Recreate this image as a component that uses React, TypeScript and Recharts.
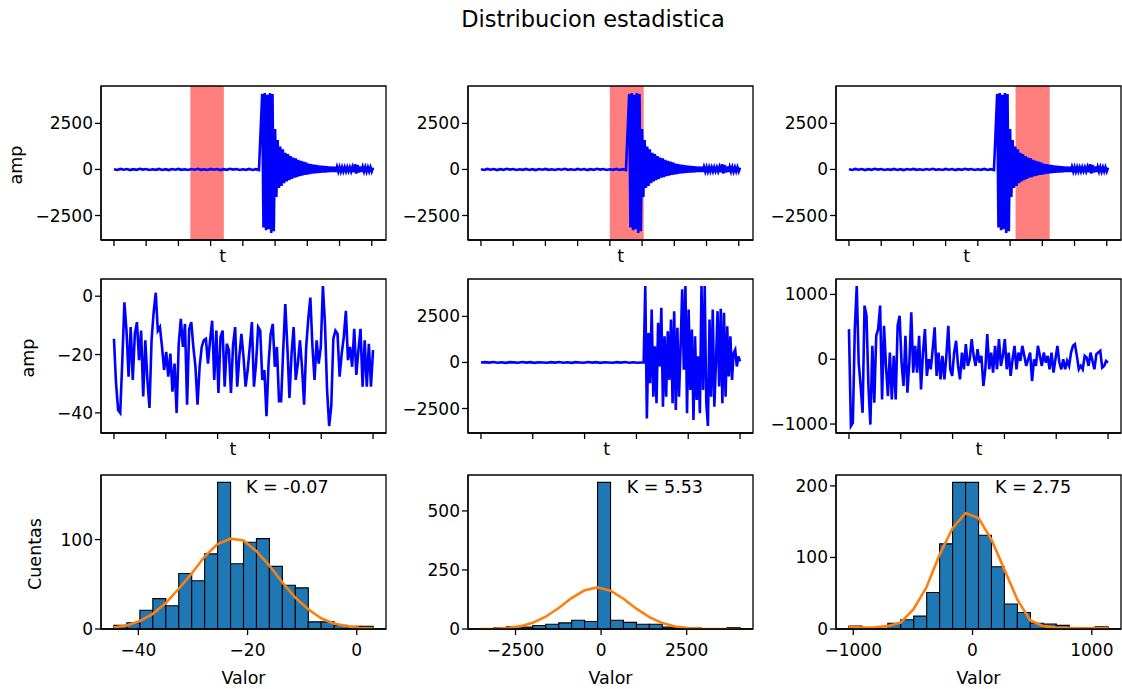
import React from 'react';
import { ComposedChart, Line, Bar, XAxis, YAxis, ReferenceArea } from 'recharts';

// ---------------- DATA ----------------
// Row 1: full record (same record in the three top panels)
const REC_QUIET_DT = 0.1; // pre-event samples, t = 0 .. 4.5
const REC_QUIET = [
  10, -25, 30, -15, 20, -35, 15, -20, 35, -10,
  25, -30, 10, -20, 30, -25, 15, -35, 20, -15,
  30, -20, 10, -30, 25, -15, 35, -20, 10, -25,
  30, -15, 20, -35, 15, -20, 35, -10, 25, -30,
  10, -20, 30, -25, 15, -35,
];
const REC_EVENT_START = 4.6;
const REC_EVENT_DT = 0.04;
const REC_EVENT = [
  4100, -3150, 4150, -3300, 4050, -3250, 4150, -3450, 4100, -3350,
  2200, -1500, 1600, -1000, 1250, -900, 1100, -750, 900, -650,
  830, -580, 720, -520, 650, -450, 600, -420, 520, -360,
  470, -330, 420, -300, 380, -280, 320, -250, 290, -230,
  260, -210, 240, -200, 220, -180, 200, -170, 190, -160,
  170, -150, 160, -140, 150, -130, 145, -130, 140, -120,
  130, -120, 125, -110, 120, -110, 120, -100, 115, -110,
  130, -150, 280, -220, 250, -170, 160, -140, 140, -120,
  130, -120, 120, -110, 120, -110, 100,
];
const RECORD_TICKS = [0, 1, 2, 3, 4, 5, 6, 7, 8];
const WINDOWS: [number, number][] = [[2.37, 3.41], [4.0, 5.05], [5.17, 6.23]];

// Row 2: windowed segments (1000 samples each)
const SEG_LEN = 1000;
const SEG_TICKS = [0, 200, 400, 600, 800, 1000];
const SEG1 = [
  -14.6, -30, -39, -40, -22, -2.1, -11.8, -27.6, -10.6, -28.7, -12.9, -8.9, -21.9, -11.8, -34.4,
  -15.1, -28.7, -38.3, -15.1, -5.5, 1.2, -11.8, -10.6, -17.4, -25.3, -19.1, -27.6, -19.7, -32.7,
  -23.1, -40.0, -16.3, -7.8, -17.4, -9.5, -37.2, -11.2, -8.9, -17.4, -24.2, -37.2, -24.2, -17.4,
  -15.1, -14.6, -23.1, -15.1, -8.4, -28.7, -11.8, -33.2, -14.0, -11.8, -31.0, -16.3, -18.5, -33.2,
  -16.8, -10.6, -31.0, -20.8, -12.9,
  -20.8, -31.0, -25.3, -17.4, -8.9, -31.0, -23.1, -10.6, -11.8, -28.7, -25.3, -41.1, -23.1, -12.9,
  -9.5, -24.2, -17.4, -36.0, -36.0, -18.5, -2.7, -17.4, -34.9, -19.7, -10.6, -28.7, -23.1, -15.1,
  -24.2, -37.2, -17.4, -7.8, -0.5, -17.4, -28.7, -15.1, -23.1, -17.4, 3.5, -9.5, -32.1, -44.5,
  -37.7, -14.6, -11.8, -12.9, -27.6, -19.7, -14.0, -5.0, -21.9, -17.4, -24.2, -11.2, -27.0, -18.5,
  -11.2, -31.0, -15.1, -31.0, -16.3, -31.0, -18.5,
];
const SEG2_ONSET = 628; // sample where the arrival starts
const SEG2_QUIET = [
  0, 15, -10, 20, -15, 10, -20, 15, 5, -15, 20, -10, 15, -20, 10, 0, -15, 15, -10, 20,
  -15, 10, -20, 15, 0, -15, 20, -10, 15, -20, 10, 0, -15, 15, -10, 20, -15, 10, -20, 0,
];
const SEG2_EVENT = [
  0, 4150, -3040, 1604, -1126, 2877, -1856, 874, -2218, 2150, -218, 2968, -2402, 1420, -1856,
  1692, -944, 2331, -2218, 2784, -2582, 1878, -1856, 874, 3969, -399, 4150, -2762, 2877, -1490,
  1785, -3128, 1420, -2036, 328, -2762, 4150, -1490, 4150, -2218, -3450, 2331, -1856, 2877,
  -2402, -33, 2784, -1310, 2915, -2218, 2697, -1856, 1965, -764, 1420, -944, 513, 693, -218,
  328, 55,
];
const SEG3 = [
  465, -1030, -982, 465, 1130, -52, -413, -827, 827, 672, -413, -1008, 207, -672, 362, 465, 827,
  -620, 517, -103, -568, 103, -620, 52, -620, 517, 672, -52, -413, 362, -517, -52, 723, -207, 207,
  -207, 362, -465, 103, 465, -258, 0, -155, 155, 491, -258, 103, -310, 52, -310, 52, 517, -155,
  -258, 103, 284, -103, -310, 103, -155, 232, -103, 0, 310, 52, -103, 155, -52, 52, -413, -155,
  388, -155, 103, -207, 207, -155, 310, -103, 52, 310, -155, 103, -258, 0, 207, -155, 103, -26,
  207, 52, -103, 0, 103, -336, 0, -103, 207, 52, -103, 103, -52, 52, -155, 103, -207, 0, 207,
  -52, -155, 0, -155, -26, -103, 103, 207, 232, 52, -155, -103, -155, 52, 26, -103, 103, -26,
  -155, 78, 103, 129, -129, -103, -26, -52,
];

// Row 3: histograms (20 bins) and fitted curve at the bin edges
const H1_RANGE = [-44.47, 2.98];
const H1_COUNTS = [4, 7, 21, 34, 26, 62, 54, 84, 164, 73, 97, 101, 70, 49, 46, 8, 8, 4, 3, 3];
const H1_FIT = [2, 4, 9, 17, 29, 45, 62, 81, 95, 101, 99, 87, 71, 52, 35, 22, 12, 6, 3, 1, 0.5];
const H2_RANGE = [-3510, 4060];
const H2_COUNTS = [2, 5, 10, 8, 15, 20, 26, 37, 32, 621, 37, 28, 20, 20, 8, 5, 4, 2, 2, 6];
const H2_FIT = [0.3, 1.3, 4.2, 11, 26, 52, 89, 131, 164, 176, 162, 128, 86, 50, 25, 10.5, 3.9, 1.2, 0.3, 0.1, 0];
const H3_RANGE = [-1036, 1136];
const H3_COUNTS = [4, 1, 1, 8, 13, 18, 51, 119, 205, 205, 131, 87, 35, 23, 8, 7, 5, 2, 1, 3];
const H3_FIT = [3, 2, 2.5, 4, 9, 28, 59, 104, 141, 162, 155, 125, 83, 41, 12, 4, 2, 1.5, 1, 1, 1.5];
const H_XTICKS = [[-40, -20, 0], [-2500, 0, 2500], [-1000, 0, 1000]];
const H_YTICKS = [[0, 100], [0, 250, 500], [0, 100, 200]];
const KURTOSIS = ['K = -0.07', 'K = 5.53', 'K = 2.75'];

const TITLE = 'Distribucion estadistica';

// ---------------- STYLE / LAYOUT ----------------
const FONT = "'DejaVu Sans', sans-serif";
const TICK_FS = 17;
const LABEL_FS = 17.5;
const TITLE_FS = 22.5;
const BLUE = '#0000ff';
const HIST_BLUE = '#1f77b4';
const ORANGE = '#ff7f0e';
const COL_LEFT = [101, 468, 836];
const ROW_TOP = [86, 279, 475];
const PW = 285, PH = 154;
const ML = 100, MT = 10, MR = 4, MB = 64;
const AXIS_LINE = { stroke: '#000', strokeWidth: 1.3 };
const TICK_STYLE = { fill: '#000', fontSize: TICK_FS, fontFamily: FONT };

const fmt = (v: number) => (v < 0 ? '\u2212' + Math.abs(v) : String(v));
const noTickText = () => <g />;

function padDomain(values: number[], frac = 0.05): [number, number] {
  const lo = Math.min(...values), hi = Math.max(...values);
  const r = hi - lo;
  return [lo - r * frac, hi + r * frac];
}

// ---------------- DERIVED TABLES ----------------
const recordData = [
  ...REC_QUIET.map((v, i) => ({ x: i * REC_QUIET_DT, v })),
  ...REC_EVENT.map((v, i) => ({ x: REC_EVENT_START + i * REC_EVENT_DT, v })),
];
const evenly = (vals: number[], a: number, b: number) =>
  vals.map((v, i) => ({ x: a + (i * (b - a)) / (vals.length - 1), v }));
const seg1Data = evenly(SEG1, 0, SEG_LEN);
const seg2Data = [
  ...evenly(SEG2_QUIET, 0, SEG2_ONSET - 8),
  ...evenly(SEG2_EVENT, SEG2_ONSET, SEG_LEN),
];
const seg3Data = evenly(SEG3, 0, SEG_LEN);

function histTables(range: number[], counts: number[], fit: number[]) {
  const w = (range[1] - range[0]) / counts.length;
  return {
    bars: counts.map((c, i) => ({ x: range[0] + (i + 0.5) * w, c })),
    fit: fit.map((y, i) => ({ x: range[0] + i * w, y })),
    xDomain: padDomain(range),
    yDomain: [0, Math.max(...counts) * 1.05] as [number, number],
  };
}
const HISTS = [
  histTables(H1_RANGE, H1_COUNTS, H1_FIT),
  histTables(H2_RANGE, H2_COUNTS, H2_FIT),
  histTables(H3_RANGE, H3_COUNTS, H3_FIT),
];

// ---------------- PANEL ----------------
type PanelProps = {
  col: number;
  row: number;
  data: any[];
  xDomain: [number, number];
  yDomain: [number, number];
  xTicks: number[];
  yTicks: number[];
  xTickLabels: boolean;
  xLabel: string;
  xLabelX?: number;
  xLabelBaseline: number;
  yLabel?: string;
  yLabelX?: number;
  note?: string;
  noteFrac?: number;
  children?: React.ReactNode[];
};

function Panel(p: PanelProps) {
  const left = COL_LEFT[p.col] - ML;
  const top = ROW_TOP[p.row] - MT;
  const xLabelFn = (lp: any) => {
    const vb = lp.viewBox;
    const x = p.xLabelX == null ? vb.x + vb.width / 2 : vb.x + p.xLabelX;
    return (
      <text x={x} y={vb.y + p.xLabelBaseline} textAnchor="middle" fontSize={LABEL_FS} fontFamily={FONT} fill="#000">
        {p.xLabel}
      </text>
    );
  };
  const yLabelFn = (lp: any) => {
    const vb = lp.viewBox;
    const x = vb.x + vb.width + (p.yLabelX ?? 0);
    const y = vb.y + vb.height / 2 + 2;
    return (
      <text x={x} y={y} transform={`rotate(-90 ${x} ${y})`} textAnchor="middle" fontSize={LABEL_FS} fontFamily={FONT} fill="#000">
        {p.yLabel}
      </text>
    );
  };
  const noteFn = (lp: any) => {
    const vb = lp.viewBox;
    if (!p.note) return <g />;
    return (
      <text x={vb.x + vb.width * (p.noteFrac ?? 0.5)} y={vb.y + 18} fontSize={LABEL_FS} fontFamily={FONT} fill="#000">
        {p.note}
      </text>
    );
  };
  return (
    <div style={{ position: 'absolute', left, top }}>
      <ComposedChart
        width={ML + PW + MR}
        height={MT + PH + MB}
        data={p.data}
        margin={{ top: MT, right: MR, bottom: 0, left: 0 }}
        barCategoryGap={0}
        barGap={0}
      >
        <XAxis
          dataKey="x"
          type="number"
          domain={p.xDomain}
          allowDataOverflow
          ticks={p.xTicks}
          interval={0}
          height={MB}
          tickSize={6}
          tickMargin={9}
          tick={p.xTickLabels ? TICK_STYLE : noTickText}
          tickFormatter={fmt}
          axisLine={AXIS_LINE}
          tickLine={AXIS_LINE}
          label={xLabelFn}
        />
        <YAxis
          type="number"
          domain={p.yDomain}
          allowDataOverflow
          ticks={p.yTicks}
          interval={0}
          width={ML}
          tickSize={6}
          tickMargin={2}
          tick={TICK_STYLE}
          tickFormatter={fmt}
          axisLine={AXIS_LINE}
          tickLine={AXIS_LINE}
          label={p.yLabel ? yLabelFn : undefined}
        />
        {p.children}
        <ReferenceArea
          x1={p.xDomain[0]}
          x2={p.xDomain[1]}
          y1={p.yDomain[0]}
          y2={p.yDomain[1]}
          fill="none"
          fillOpacity={0}
          stroke="#000"
          strokeWidth={1.3}
          ifOverflow="visible"
          label={noteFn}
        />
      </ComposedChart>
    </div>
  );
}

// ---------------- APP ----------------
const ROW1_X_LABEL = [121.7, 152.7, 130.7];
const ROW2_X_LABEL = [132, 138.7, 143];
const NOTE_FRAC = [0.509, 0.557, 0.558];

export default function App() {
  const recX = padDomain(recordData.map((d) => d.x));
  const recY = padDomain(recordData.map((d) => d.v));
  const segs = [seg1Data, seg2Data, seg3Data];
  const segX = padDomain([0, SEG_LEN]);
  const segTicksY = [[-40, -20, 0], [-2500, 0, 2500], [-1000, 0, 1000]];

  return (
    <div style={{ position: 'absolute', left: 0, top: 0, width: 1122, height: 689, overflow: 'hidden', background: '#fff' }}>
      <svg width={1122} height={40} style={{ position: 'absolute', left: 0, top: 0 }}>
        <text x={593} y={26.5} textAnchor="middle" fontSize={TITLE_FS} fontFamily={FONT} fill="#000">
          {TITLE}
        </text>
      </svg>

      {WINDOWS.map((w, c) => (
        <Panel
          key={'r1' + c}
          col={c}
          row={0}
          data={recordData}
          xDomain={recX}
          yDomain={recY}
          xTicks={RECORD_TICKS}
          yTicks={[-2500, 0, 2500]}
          xTickLabels={false}
          xLabel="t"
          xLabelX={ROW1_X_LABEL[c]}
          xLabelBaseline={21.5}
          yLabel={c === 0 ? 'amp' : undefined}
          yLabelX={-79}
        >
          {[
            <ReferenceArea key="win" x1={w[0]} x2={w[1]} fill="#ff0000" fillOpacity={0.5} stroke="none" />,
            <Line key="rec" dataKey="v" stroke={BLUE} strokeWidth={2.6} dot={false} isAnimationActive={false} />,
          ]}
        </Panel>
      ))}

      {segs.map((d, c) => (
        <Panel
          key={'r2' + c}
          col={c}
          row={1}
          data={d}
          xDomain={segX}
          yDomain={padDomain(d.map((e) => e.v))}
          xTicks={SEG_TICKS}
          yTicks={segTicksY[c]}
          xTickLabels={false}
          xLabel="t"
          xLabelX={ROW2_X_LABEL[c]}
          xLabelBaseline={21.5}
          yLabel={c === 0 ? 'amp' : undefined}
          yLabelX={-67}
        >
          {[<Line key="seg" dataKey="v" stroke={BLUE} strokeWidth={2.6} dot={false} isAnimationActive={false} />]}
        </Panel>
      ))}

      {HISTS.map((h, c) => (
        <Panel
          key={'r3' + c}
          col={c}
          row={2}
          data={h.bars}
          xDomain={h.xDomain}
          yDomain={h.yDomain}
          xTicks={H_XTICKS[c]}
          yTicks={H_YTICKS[c]}
          xTickLabels={true}
          xLabel="Valor"
          xLabelBaseline={55}
          yLabel={c === 0 ? 'Cuentas' : undefined}
          yLabelX={-60}
          note={KURTOSIS[c]}
          noteFrac={NOTE_FRAC[c]}
        >
          {[
            <XAxis key="fitx" xAxisId="fit" dataKey="x" type="number" domain={h.xDomain} allowDataOverflow hide />,
            <Bar key="bars" dataKey="c" fill={HIST_BLUE} stroke="#000" strokeWidth={1.1} isAnimationActive={false} />,
            <Line key="fit" xAxisId="fit" data={h.fit} dataKey="y" stroke={ORANGE} strokeWidth={2.6} dot={false} isAnimationActive={false} />,
          ]}
        </Panel>
      ))}
    </div>
  );
}
